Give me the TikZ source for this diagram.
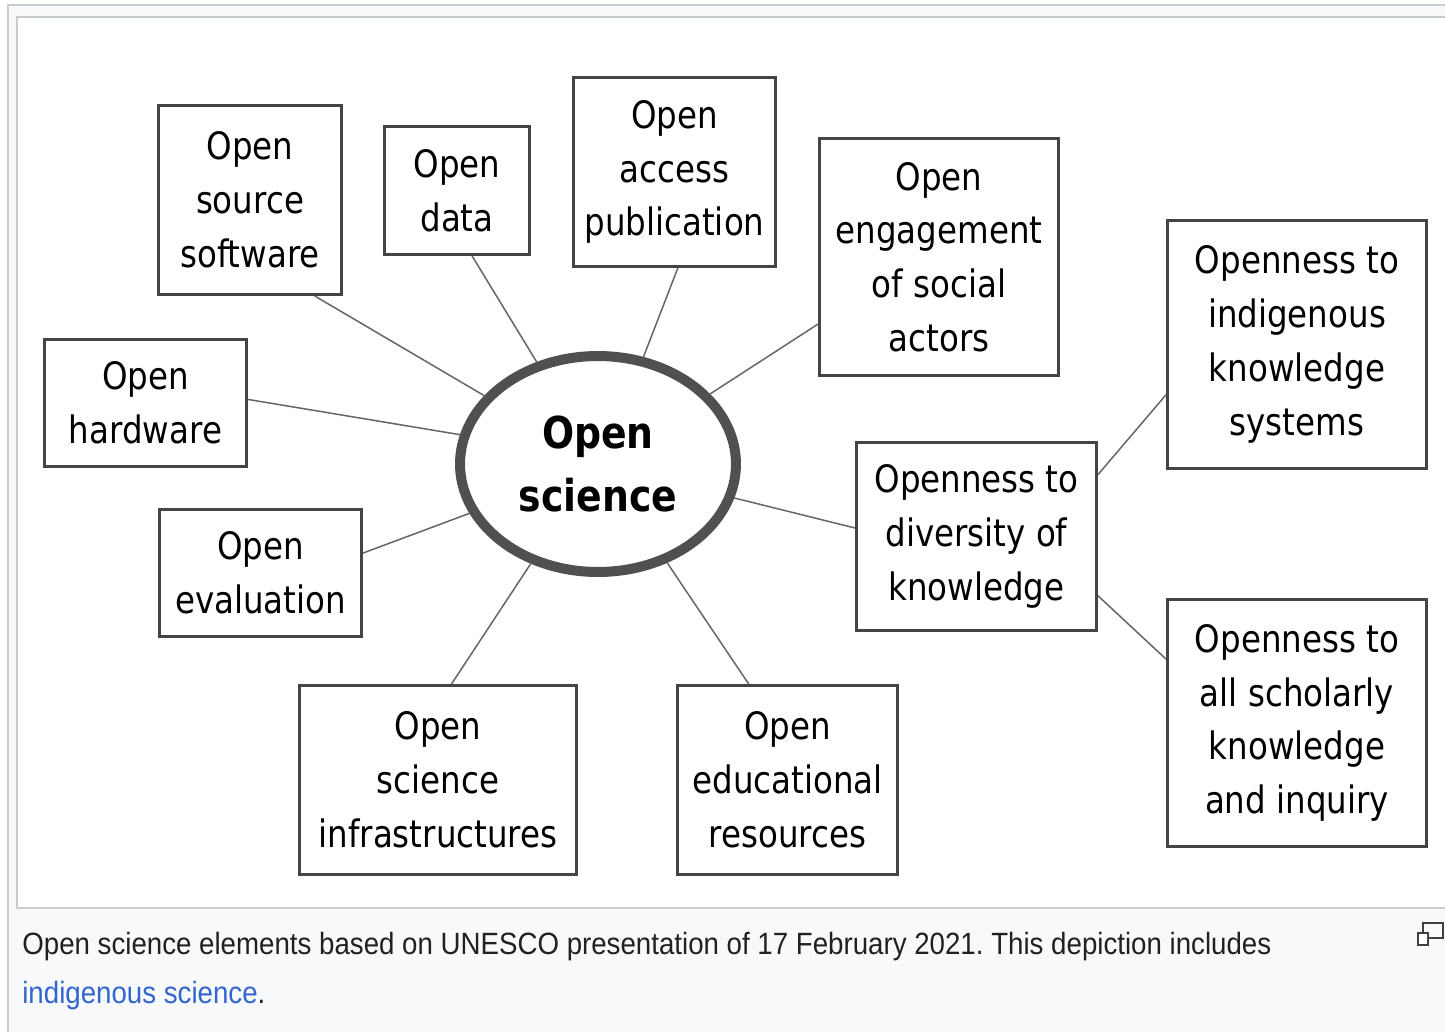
\documentclass[tikz,border=0pt]{standalone}
\usepackage{fontspec}
\setmainfont{DejaVu Sans}[FakeStretch=0.86]
\newfontfamily\capfont{Liberation Sans}[FakeStretch=0.9]
\usetikzlibrary{shapes.geometric}
\definecolor{framegray}{HTML}{C8CCD1}
\definecolor{capbg}{HTML}{F8F9FA}
\definecolor{capfg}{HTML}{202122}
\definecolor{linkblue}{HTML}{3366CC}
\definecolor{boxgray}{HTML}{444444}
\definecolor{linegray}{HTML}{666666}
\definecolor{ringgray}{HTML}{505050}
\frenchspacing

\begin{document}
\begin{tikzpicture}[x=0.02cm,y=-0.02cm,
    box/.style={draw=boxgray,line width=0.06cm,fill=white,align=center,inner sep=0pt,
      font=\fontsize{21.5}{30.6}\selectfont},
    centre/.style={ellipse,draw=ringgray,line width=0.2cm,fill=white,align=center,
      minimum width=5.52cm,minimum height=4.32cm,font=\bfseries\fontsize{25}{35.7}\selectfont},
    link/.style={draw=linegray,line width=0.03cm},
    caption/.style={anchor=base west,inner sep=0pt,text=capfg,
      font=\capfont\fontsize{17.5}{20}\selectfont}]
  \useasboundingbox (0,0) rectangle (1445,1032);
  \clip (0,0) rectangle (1445,1032);
  \fill[white] (0,0) rectangle (1445,1032);
  \draw[framegray,fill=capbg,line width=0.04cm] (8,5) rectangle (1480,1060);
  \draw[framegray,fill=white,line width=0.04cm] (17,17) rectangle (1480,908);

  \node[centre] (os) at (598,464) {Open\\science};
  \node[box,minimum width=3.66cm,minimum height=3.78cm] (oss) at (250,200) {Open\\source\\software};
  \node[box,minimum width=2.90cm,minimum height=2.56cm] (data) at (457,190.5) {Open\\data};
  \node[box,minimum width=4.04cm,minimum height=3.78cm] (acc) at (674.5,172) {Open\\access\\publication};
  \node[box,minimum width=4.78cm,minimum height=4.74cm] (eng) at (939,257) {Open\\engagement\\of social\\actors};
  \node[box,minimum width=4.04cm,minimum height=2.54cm] (hw) at (145.5,403) {Open\\hardware};
  \node[box,minimum width=4.04cm,minimum height=2.54cm] (eval) at (260.5,573) {Open\\evaluation};
  \node[box,minimum width=5.54cm,minimum height=3.78cm] (infra) at (438,780) {Open\\science\\infrastructures};
  \node[box,minimum width=4.40cm,minimum height=3.78cm] (edu) at (787.5,780) {Open\\educational\\resources};
  \node[box,minimum width=4.80cm,minimum height=3.76cm] (div) at (976.5,536.5) {Openness to\\diversity of\\knowledge};
  \node[box,minimum width=5.18cm,minimum height=4.96cm] (ind) at (1297,344.5) {Openness to\\indigenous\\knowledge\\systems};
  \node[box,minimum width=5.18cm,minimum height=4.94cm] (sch) at (1297,723) {Openness to\\all scholarly\\knowledge\\and inquiry};

  \draw[link] (oss.-56.7) -- (os.149.4);
  \draw[link] (data.-77.1) -- (os.121.3);
  \draw[link] (acc.-88.5) -- (os.67.2);
  \draw[link] (eng.209.3) -- (os.32.1);
  \draw[link] (hw.2.8) -- (os.168.9);
  \draw[link] (eval.11) -- (os.201.1);
  \draw[link] (div.176.9) -- (os.-14.2);
  \draw[link] (infra.82.9) -- (os.-124.6);
  \draw[link] (edu.112.4) -- (os.-55);
  \draw[link] (div.27.2) -- (ind.201.5);
  \draw[link] (div.-26.8) -- (sch.154.3);

  \node[caption] (cap1) at (22,954) {Open science elements based on UNESCO presentation of 17 February 2021. This depiction includes};
  \node[caption] (cap2) at (22,1003) {\textcolor{linkblue}{indigenous science}.};
  \draw[black!75,line width=0.03cm] (1423,923) rectangle (1443,938);
  \draw[black!75,fill=white,line width=0.03cm] (1418,933) rectangle (1428,945);
\end{tikzpicture}
\end{document}
